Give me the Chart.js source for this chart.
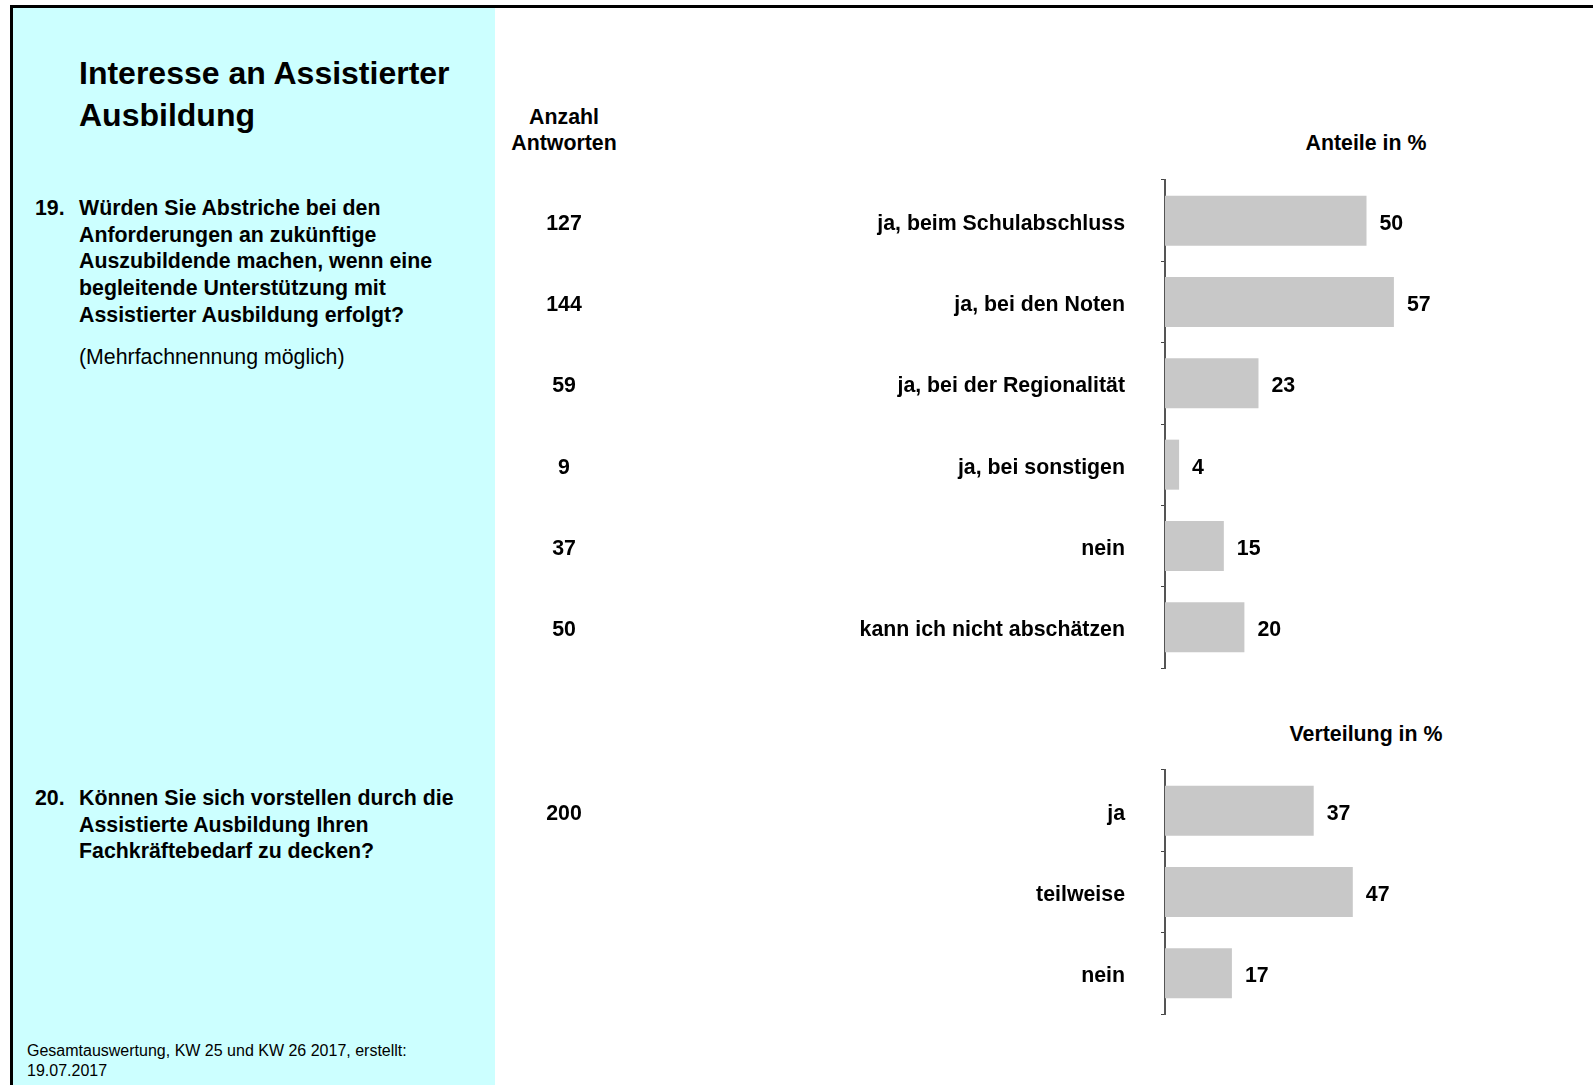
<!DOCTYPE html>
<html lang="de">
<head>
<meta charset="utf-8">
<title>Interesse an Assistierter Ausbildung</title>
<script src="https://cdn.jsdelivr.net/npm/chart.js@4.4.1/dist/chart.umd.min.js"></script>
<style>
  html, body { margin: 0; padding: 0; background: #fff; }
  body {
    width: 1593px; height: 1085px; position: relative; overflow: hidden;
    font-family: "Liberation Sans", Arial, sans-serif; color: #000;
  }
  #frame {
    position: absolute; left: 10px; top: 5px; right: 0; bottom: -10px;
    border-top: 3px solid #000; border-left: 3px solid #000;
  }
  #side { position: absolute; left: 13px; top: 8px; width: 482px; bottom: 0; background: #ccffff; }
  .t { position: absolute; white-space: nowrap; }
  #title { left: 79px; top: 52px; font-size: 32px; line-height: 42px; font-weight: bold; }
  .q { font-size: 21.33px; line-height: 26.7px; font-weight: bold; }
  .num { left: 35px; }
  .qt { left: 79px; }
  #note { left: 79px; top: 344px; font-size: 21.33px; line-height: 26.7px; }
  #foot { left: 27px; top: 1041px; font-size: 16px; line-height: 20px; }
  .head { font-size: 21.33px; font-weight: bold; text-align: center; }
  canvas { position: absolute; }
</style>
</head>
<body>
<div id="frame"></div>
<div id="side"></div>

<div class="t" id="title">Interesse an Assistierter<br>Ausbildung</div>

<div class="t q num" style="top:195px">19.</div>
<div class="t q qt" style="top:195px">Würden Sie Abstriche bei den<br>Anforderungen an zukünftige<br>Auszubildende machen, wenn eine<br>begleitende Unterstützung mit<br>Assistierter Ausbildung erfolgt?</div>
<div class="t" id="note">(Mehrfachnennung möglich)</div>

<div class="t q num" style="top:785px">20.</div>
<div class="t q qt" style="top:785px">Können Sie sich vorstellen durch die<br>Assistierte Ausbildung Ihren<br>Fachkräftebedarf zu decken?</div>

<div class="t" id="foot">Gesamtauswertung, KW 25 und KW 26 2017, erstellt:<br>19.07.2017</div>

<div class="t head" style="left:464px; width:200px; top:105px; line-height:25.5px">Anzahl<br>Antworten</div>
<div class="t head" style="left:1216px; width:300px; top:130px; line-height:26px">Anteile in %</div>
<div class="t head" style="left:1216px; width:300px; top:721px; line-height:26px">Verteilung in %</div>

<canvas id="chart-q19" width="1073" height="496" style="left:495px; top:176px"></canvas>
<canvas id="chart-q20" width="1073" height="252" style="left:495px; top:766px"></canvas>

<script>
// Frage 19 (Mehrfachnennung)
const q19Labels = ['ja, beim Schulabschluss', 'ja, bei den Noten', 'ja, bei der Regionalität', 'ja, bei sonstigen', 'nein', 'kann ich nicht abschätzen'];
const q19Shares = [50, 56.8, 23.2, 3.5, 14.6, 19.7];
const q19Counts = [127, 144, 59, 9, 37, 50];

// Frage 20
const q20Labels = ['ja', 'teilweise', 'nein'];
const q20Shares = [36.9, 46.6, 16.6];
const q20Counts = [200, null, null];

const FONT = '"Liberation Sans", Arial, sans-serif';
const TEXT_SHIFT = 3; // Text sitzt im Original etwas tiefer als die Balkenmitte
Chart.defaults.font.family = FONT;
Chart.defaults.color = '#000';

// Prozentwerte rechts neben den Balken, Anzahl links in eigener Spalte
const barText = {
  id: 'barText',
  afterDatasetsDraw(chart, args, opts) {
    const ctx = chart.ctx;
    const meta = chart.getDatasetMeta(0);
    const yScale = chart.scales.y;
    const values = chart.data.datasets[0].data;
    ctx.save();
    ctx.font = `bold 21.33px ${FONT}`;
    ctx.fillStyle = '#000';
    ctx.textBaseline = 'middle';
    meta.data.forEach((bar, i) => {
      ctx.textAlign = 'left';
      ctx.fillText(String(Math.round(values[i])), bar.x + 13, bar.y + TEXT_SHIFT);
      const n = opts.counts[i];
      if (n !== null && n !== undefined) {
        ctx.textAlign = 'center';
        ctx.fillText(String(n), opts.countX, yScale.getPixelForValue(i) + TEXT_SHIFT);
      }
    });
    ctx.restore();
  },
};

function makeChart(id, labels, shares, counts) {
  return new Chart(document.getElementById(id), {
    type: 'bar',
    data: {
      labels,
      datasets: [{
        data: shares,
        backgroundColor: '#c8c8c8',
        borderWidth: 0,
        categoryPercentage: 1,
        barPercentage: 0.615,
      }],
    },
    options: {
      indexAxis: 'y',
      responsive: false,
      animation: false,
      layout: { padding: { top: 4, bottom: 4, left: 0, right: 0 } },
      plugins: {
        legend: { display: false },
        tooltip: { enabled: false },
        barText: { counts, countX: 69 },
      },
      scales: {
        x: { type: 'linear', min: 0, max: 100, display: false },
        y: {
          grid: { display: true, drawOnChartArea: false, drawTicks: true, tickLength: 4, offset: true, color: '#444', lineWidth: 1 },
          border: { display: true, color: '#555', width: 2 },
          ticks: { color: '#000', font: { size: 21.33, weight: 'bold' }, padding: 36, labelOffset: TEXT_SHIFT, autoSkip: false },
          afterFit: (s) => {
            s.width = 670;
            // die Beschriftungen sitzen mittig in den Kategorien, kein Zusatzrand oben/unten
            s.paddingTop = 0;
            s.paddingBottom = 0;
          },
        },
      },
    },
    plugins: [barText],
  });
}

makeChart('chart-q19', q19Labels, q19Shares, q19Counts);
makeChart('chart-q20', q20Labels, q20Shares, q20Counts);
</script>
</body>
</html>
